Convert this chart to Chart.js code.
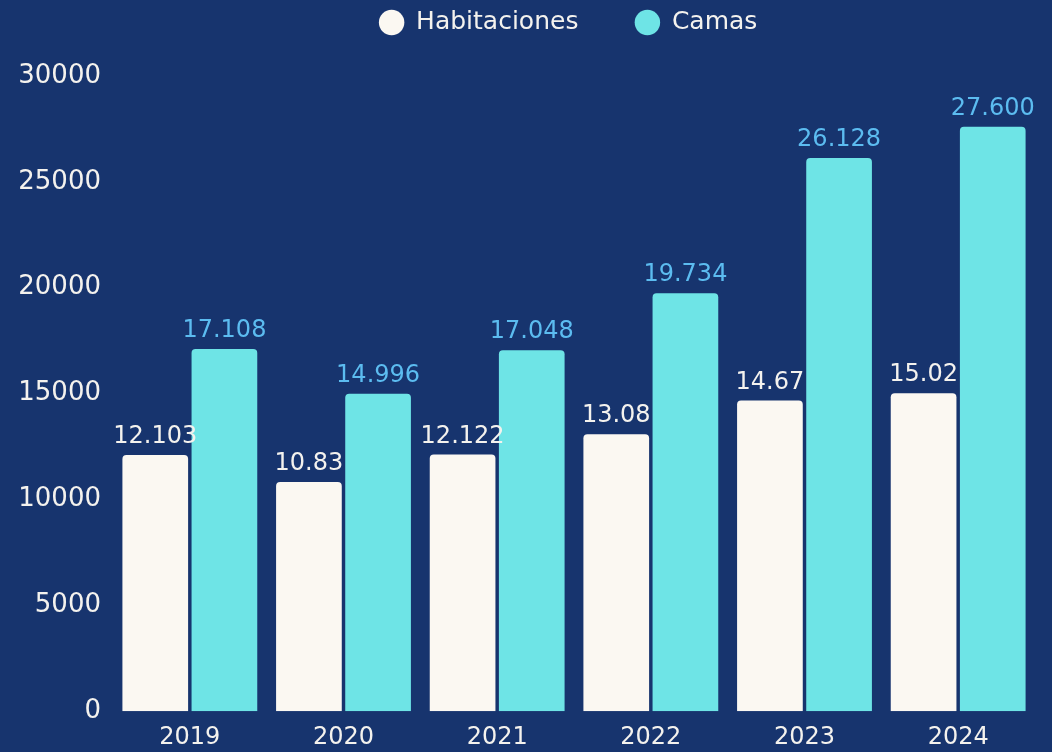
<!DOCTYPE html>
<html>
<head>
<meta charset="utf-8">
<script src="https://cdn.jsdelivr.net/npm/chart.js@4.4.1/dist/chart.umd.min.js"></script>
<style>
  html, body { margin: 0; padding: 0; background: #17346e; }
  #wrap { width: 1052px; height: 752px; }
</style>
</head>
<body>
<div id="wrap"><canvas id="chart" width="1052" height="752"></canvas></div>
<script>
const years = ['2019', '2020', '2021', '2022', '2023', '2024'];
const habitaciones = [12103, 10830, 12122, 13080, 14670, 15020];
const camas = [17108, 14996, 17048, 19734, 26128, 27600];
// labels as printed on the original
const habLabels = ['12.103', '10.83', '12.122', '13.08', '14.67', '15.02'];
const camasLabels = ['17.108', '14.996', '17.048', '19.734', '26.128', '27.600'];

const FONT = 'DejaVu Sans';

// simple value labels above each bar
const barLabels = {
    id: 'barLabels',
    afterDatasetsDraw(chart) {
        const ctx = chart.ctx;
        ctx.save();
        ctx.font = '24px "' + FONT + '"';
        ctx.textAlign = 'center';
        ctx.textBaseline = 'alphabetic';
        chart.data.datasets.forEach((ds, i) => {
            const meta = chart.getDatasetMeta(i);
            ctx.fillStyle = ds.labelColor;
            meta.data.forEach((bar, j) => {
                ctx.fillText(ds.valueLabels[j], bar.x, bar.y - 12);
            });
        });
        ctx.restore();
    }
};

// extra room under the legend, and push it a bit to the right
const legendSpace = {
    id: 'legendSpace',
    beforeInit(chart) {
        const fit = chart.legend.fit;
        chart.legend.fit = function () {
            fit.call(this);
            this.height += 31;
        };
    },
    afterLayout(chart) {
        chart.legend.left += 51;
        chart.legend.right += 51;
    }
};

new Chart(document.getElementById('chart'), {
    type: 'bar',
    data: {
        labels: years,
        datasets: [{
            label: 'Habitaciones',
            data: habitaciones,
            valueLabels: habLabels,
            labelColor: '#f4f2ee',
            backgroundColor: '#fbf8f2',
            borderRadius: 4,
            borderSkipped: 'bottom'
        }, {
            label: 'Camas',
            data: camas,
            valueLabels: camasLabels,
            labelColor: '#5cbcf0',
            backgroundColor: '#6ee4e6',
            borderRadius: 4,
            borderSkipped: 'bottom'
        }]
    },
    options: {
        responsive: false,
        animation: false,
        layout: { padding: { top: -47, right: 17, left: 0, bottom: -12 } },
        datasets: {
            bar: { categoryPercentage: 0.9, barPercentage: 0.95 }
        },
        plugins: {
            tooltip: { enabled: false },
            legend: {
                position: 'top',
                labels: {
                    usePointStyle: true,
                    pointStyle: 'circle',
                    boxWidth: 24,
                    boxHeight: 18,
                    padding: 57,
                    color: '#f4f2ee',
                    font: { family: FONT, size: 25 }
                }
            }
        },
        scales: {
            x: {
                grid: { display: false, drawTicks: false },
                border: { display: false },
                ticks: {
                    color: '#f4f2ee',
                    padding: 12,
                    font: { family: FONT, size: 24 }
                }
            },
            y: {
                min: 0,
                max: 30000,
                grid: { display: false, drawTicks: false },
                border: { display: false },
                afterFit(scale) { scale.width = 113; },
                ticks: {
                    stepSize: 5000,
                    color: '#f4f2ee',
                    padding: 12,
                    font: { family: FONT, size: 26 },
                    callback: (v) => String(v)
                }
            }
        }
    },
    plugins: [barLabels, legendSpace]
});
</script>
</body>
</html>
